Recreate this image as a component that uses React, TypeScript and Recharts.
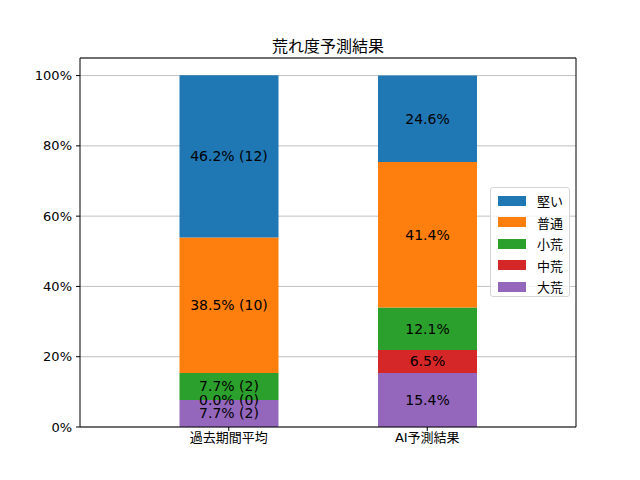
import { BarChart, Bar, XAxis, YAxis, CartesianGrid, LabelList } from "recharts";

const categories = ["過去期間平均", "AI予測結果"];
// stacked bottom -> top
const seriesNames = ["大荒", "中荒", "小荒", "普通", "堅い"];
const seriesColors = ["#9467bd", "#d62728", "#2ca02c", "#ff7f0e", "#1f77b4"];
const pastPercents = [7.7, 0.0, 7.7, 38.5, 46.2];
const pastCounts = [2, 0, 2, 10, 12];
const aiPercents = [15.4, 6.5, 12.1, 41.4, 24.6];
const yTicks = [0, 20, 40, 60, 80, 100];

const FONT = "'DejaVu Sans', 'Noto Sans CJK JP', sans-serif";
const axisLine = { stroke: "#000", strokeWidth: 1 };

const buildRow = (name: string, percents: number[], counts?: number[]) => {
  const row: Record<string, string | number> = { name };
  seriesNames.forEach((s, i) => {
    row[s] = percents[i];
    row[`l_${s}`] = counts
      ? `${percents[i].toFixed(1)}% (${counts[i]})`
      : `${percents[i].toFixed(1)}%`;
  });
  return row;
};

const data = [
  buildRow(categories[0], pastPercents, pastCounts),
  buildRow(categories[1], aiPercents),
];

function LegendBox() {
  const items = seriesNames.map((n, i) => ({ n, c: seriesColors[i] })).reverse();
  return (
    <div
      style={{
        position: "absolute",
        left: 490,
        top: 187,
        width: 80,
        height: 110,
        boxSizing: "border-box",
        border: "1px solid #d5d5d5",
        borderRadius: 3,
        background: "rgba(255,255,255,0.8)",
        padding: "2px 0 0 7px",
        fontFamily: FONT,
        fontSize: 13,
      }}
    >
      {items.map((it) => (
        <div key={it.n} style={{ display: "flex", alignItems: "center", height: 21.5 }}>
          <span style={{ width: 28, height: 10, background: it.c, display: "inline-block" }} />
          <span style={{ marginLeft: 11, color: "#000" }}>{it.n}</span>
        </div>
      ))}
    </div>
  );
}

export default function App() {
  return (
    <div
      style={{
        position: "absolute",
        left: 0,
        top: 0,
        width: 640,
        height: 480,
        background: "#fff",
        fontFamily: FONT,
      }}
    >
      <div
        style={{
          position: "absolute",
          left: 80,
          width: 496,
          top: 33,
          textAlign: "center",
          fontSize: 16,
          color: "#000",
        }}
      >
        荒れ度予測結果
      </div>
      <BarChart
        width={640}
        height={480}
        data={data}
        margin={{ top: 57, right: 63, bottom: 0, left: 20 }}
        barSize={99}
      >
        <CartesianGrid vertical={false} stroke="#b0b0b0" strokeWidth={0.8} />
        <XAxis
          dataKey="name"
          padding={{ left: 49.5, right: 49.5 }}
          height={53}
          tickSize={4}
          axisLine={axisLine}
          tickLine={axisLine}
          tick={{ fill: "#000", fontSize: 13, fontFamily: FONT }}
        />
        <XAxis
          xAxisId="top"
          orientation="top"
          dataKey="name"
          height={1}
          tick={false}
          tickLine={false}
          axisLine={axisLine}
        />
        <YAxis
          domain={[0, 105]}
          ticks={yTicks}
          tickFormatter={(v: number) => `${v}%`}
          width={60}
          tickSize={4}
          axisLine={axisLine}
          tickLine={axisLine}
          tick={{ fill: "#000", fontSize: 13, fontFamily: FONT, dx: -2 }}
        />
        <YAxis
          yAxisId="right"
          orientation="right"
          domain={[0, 105]}
          width={1}
          tick={false}
          tickLine={false}
          axisLine={axisLine}
        />
        {seriesNames.map((s, i) => (
          <Bar
            key={s}
            dataKey={s}
            stackId="a"
            fill={seriesColors[i]}
            minPointSize={0.01}
            isAnimationActive={false}
          >
            <LabelList
              dataKey={`l_${s}`}
              position="center"
              fill="#000"
              fontSize={14}
              fontFamily={FONT}
            />
          </Bar>
        ))}
      </BarChart>
      <LegendBox />
    </div>
  );
}
